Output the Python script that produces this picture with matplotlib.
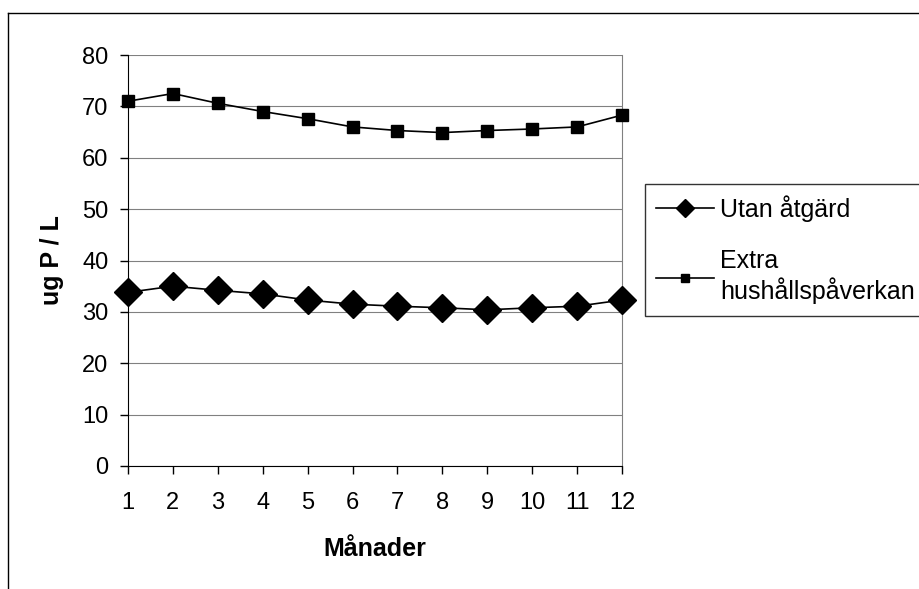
import matplotlib
matplotlib.use("Agg")
import matplotlib.pyplot as plt
from matplotlib.lines import Line2D

plt.rcParams['font.family'] = ['Liberation Sans', 'DejaVu Sans']

months = list(range(1, 13))
utan_atgard = [33.8, 35.0, 34.2, 33.5, 32.3, 31.5, 31.1, 30.8, 30.4, 30.8, 31.1, 32.3]
extra_hushall = [71.0, 72.5, 70.6, 69.0, 67.6, 66.0, 65.3, 64.9, 65.3, 65.6, 66.0, 68.3]
yticks = [0, 10, 20, 30, 40, 50, 60, 70, 80]
series_labels = ["Utan åtgärd", "Extra\nhushållspåverkan"]

W, H = 919, 589
fig = plt.figure(figsize=(W / 100, H / 100), dpi=100)
fig.patch.set_facecolor('white')

# outer chart frame (extends past the image on right/bottom)
fig.add_artist(Line2D([8 / W, 8 / W], [0, 1 - 13 / H], color='black', lw=1.0, transform=fig.transFigure))
fig.add_artist(Line2D([8 / W, 1], [1 - 13 / H, 1 - 13 / H], color='black', lw=1.0, transform=fig.transFigure))

left, right, top, bottom = 128, 622, 55, 466
ax = fig.add_axes([left / W, 1 - bottom / H, (right - left) / W, (bottom - top) / H])

ax.plot(months, utan_atgard, color='black', lw=1.2, marker='D', markersize=14,
        markerfacecolor='black', markeredgecolor='black', clip_on=False, zorder=3,
        label=series_labels[0])
ax.plot(months, extra_hushall, color='black', lw=1.2, marker='s', markersize=8,
        markerfacecolor='black', markeredgecolor='black', clip_on=False, zorder=3,
        label=series_labels[1])

ax.set_xlim(1, 12)
ax.set_ylim(0, 80)
ax.set_xticks(months)
ax.set_yticks(yticks)
ax.yaxis.grid(True, color='#808080', lw=0.8)
ax.set_axisbelow(True)
ax.spines['top'].set_visible(False)
ax.spines['right'].set_color('#808080')
ax.spines['left'].set_color('black')
ax.spines['bottom'].set_color('black')
ax.tick_params(axis='both', direction='out', length=6, width=1, labelsize=17, colors='black')
ax.tick_params(axis='x', pad=13)
ax.tick_params(axis='y', pad=8)

ax.set_xlabel("Månader", fontsize=18, fontweight='bold', labelpad=16)
ax.set_ylabel("ug P / L", fontsize=18, fontweight='bold', labelpad=13)

leg = ax.legend(loc='upper left', bbox_to_anchor=(645 / W, 1 - 184 / H),
                bbox_transform=fig.transFigure, borderaxespad=0,
                frameon=True, fancybox=False, edgecolor='black', fontsize=18,
                handlelength=2.3, handletextpad=0.25, labelspacing=1.1,
                borderpad=0.45, markerscale=0.65)
leg.get_frame().set_linewidth(1.0)

fig.savefig("out.png", dpi=100)
